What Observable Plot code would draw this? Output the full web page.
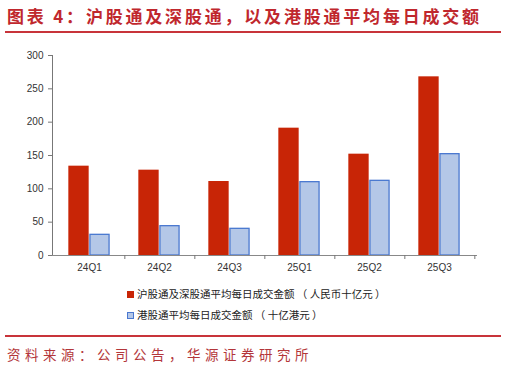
<!DOCTYPE html>
<html><head><meta charset="utf-8">
<script src="https://cdn.jsdelivr.net/npm/d3@7"></script>
<script src="https://cdn.jsdelivr.net/npm/@observablehq/plot@0.6"></script>
<style>
body{margin:0;background:#fff;font-family:"Noto Sans CJK SC","Noto Sans",sans-serif;}
#wrap{position:relative;width:507px;height:369px;overflow:hidden;background:#fff}
#title{position:absolute;left:7px;top:3px;font-size:17px;font-weight:bold;color:#c0272d;letter-spacing:2.8px;white-space:nowrap}
.line{position:absolute;left:5px;width:496px;height:2px;background:#c8343a}
#chart{position:absolute;left:0;top:40px}
#legend{position:absolute;left:127px;top:283px;font-size:10.5px;color:#222;line-height:21px}
.sw{display:inline-block;width:7px;height:7px;margin-right:3px;vertical-align:0px;box-sizing:border-box}
#source{position:absolute;left:7px;top:344px;font-size:13.5px;color:#b3363a;letter-spacing:4.5px;white-space:nowrap}
</style></head>
<body>
<div id="wrap">
  <div id="title">图表 4：沪股通及深股通，以及港股通平均每日成交额</div>
  <div class="line" style="top:31px"></div>
  <div id="chart"></div>
  <div id="legend"></div>
  <div class="line" style="top:335px;height:2px"></div>
  <div id="source">资料来源：公司公告，华源证券研究所</div>
</div>
<script>
const quarters = ["24Q1","24Q2","24Q3","25Q1","25Q2","25Q3"];
const connectValues = [134,128,111,191,152,268];   // 沪股通及深股通 (人民币十亿元)
const hkValues = [31,44,40,110,112,152];           // 港股通 (十亿港元)
const yTicks = [0,50,100,150,200,250,300];
const seriesNames = ["沪股通及深股通平均每日成交金额 （ 人民币十亿元 ）","港股通平均每日成交金额 （ 十亿港元 ）"];
const colors = {red:"#c82506", blueFill:"#b4c7e7", blueStroke:"#4a78d0"};

const W = 507, ML = 52, MR = 31;
const bw = (W - ML - MR) / quarters.length;
const barW = 21;
const rows = quarters.map((q,i)=>({q, a: connectValues[i], b: hkValues[i]}));

const chart = Plot.plot({
  width: W, height: 240,
  marginTop: 15, marginBottom: 25, marginLeft: ML, marginRight: MR,
  style: {fontFamily: "Liberation Sans, Arial, sans-serif", background: "#fff", color: "#333"},
  x: {domain: quarters, padding: 0, axis: null, label: null},
  y: {domain: [0,300], axis: null, label: null},
  marks: [
    Plot.barY(rows, {x: "q", y: "a", fill: colors.red, insetLeft: bw/2 - barW, insetRight: bw/2}),
    Plot.barY(rows, {x: "q", y: "b", fill: colors.blueFill, stroke: colors.blueStroke, strokeWidth: 1.3, insetLeft: bw/2 + 0.6, insetRight: bw/2 - barW + 0.6}),
    Plot.frame({anchor: "left", stroke: "#777"}),
    Plot.frame({anchor: "bottom", stroke: "#888"}),
    Plot.axisY({ticks: yTicks, tickSize: 4, tickPadding: 5, fontSize: 10, stroke: "#777", fill: "#333", label: null}),
    Plot.axisX({ticks: quarters, tickSize: 4, tickFormat: () => "", dx: bw/2, stroke: "#777", label: null}),
    Plot.axisX({ticks: quarters, tickSize: 0, tickPadding: 8, fontSize: 10, fill: "#333", label: null})
  ]
});
document.getElementById("chart").appendChild(chart);

const legend = document.getElementById("legend");
legend.innerHTML =
  `<div><span class="sw" style="background:${colors.red}"></span>${seriesNames[0]}</div>` +
  `<div><span class="sw" style="background:${colors.blueFill};border:1px solid ${colors.blueStroke}"></span>${seriesNames[1]}</div>`;
</script>
</body></html>
